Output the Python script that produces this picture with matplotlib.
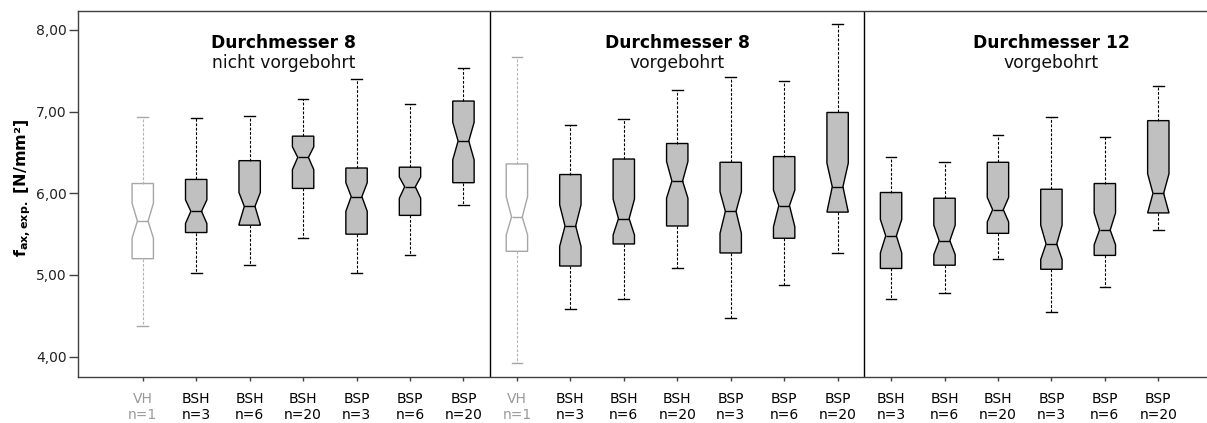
#!/usr/bin/env python3
import matplotlib
matplotlib.use('Agg')
import matplotlib.pyplot as plt
from matplotlib.ticker import FuncFormatter

# Prüfkörper-Gruppen je Position (3 Serien)
groups = ['VH', 'BSH', 'BSH', 'BSH', 'BSP', 'BSP', 'BSP',
          'VH', 'BSH', 'BSH', 'BSH', 'BSP', 'BSP', 'BSP',
          'BSH', 'BSH', 'BSH', 'BSP', 'BSP', 'BSP']
n_values = [1, 3, 6, 20, 3, 6, 20,
            1, 3, 6, 20, 3, 6, 20,
            3, 6, 20, 3, 6, 20]

# Boxplot-Kennwerte f_ax,exp. [N/mm²]
whis_hi = [6.93, 6.92, 6.95, 7.15, 7.40, 7.09, 7.53,
           7.67, 6.84, 6.91, 7.27, 7.43, 7.38, 8.07,
           6.45, 6.38, 6.71, 6.93, 6.69, 7.31]
q3 = [6.12, 6.17, 6.40, 6.70, 6.31, 6.32, 7.13,
      6.36, 6.23, 6.42, 6.61, 6.38, 6.45, 6.99,
      6.01, 5.94, 6.38, 6.05, 6.12, 6.89]
ci_hi = [5.88, 5.92, 6.01, 6.57, 6.13, 6.20, 6.87,
         5.96, 5.86, 5.93, 6.39, 6.02, 6.04, 6.37,
         5.68, 5.61, 5.95, 5.61, 5.76, 6.24]
median = [5.66, 5.78, 5.84, 6.44, 5.96, 6.08, 6.64,
          5.71, 5.60, 5.69, 6.15, 5.78, 5.85, 6.08,
          5.48, 5.42, 5.80, 5.38, 5.55, 6.00]
ci_lo = [5.45, 5.63, 5.62, 6.29, 5.78, 5.94, 6.41,
         5.49, 5.35, 5.49, 5.94, 5.51, 5.59, 5.77,
         5.27, 5.25, 5.65, 5.19, 5.37, 5.76]
q1 = [5.20, 5.52, 5.61, 6.06, 5.50, 5.73, 6.13,
      5.29, 5.11, 5.38, 5.60, 5.27, 5.45, 5.77,
      5.08, 5.12, 5.51, 5.07, 5.24, 5.76]
whis_lo = [4.38, 5.03, 5.12, 5.45, 5.02, 5.25, 5.86,
           3.92, 4.58, 4.71, 5.09, 4.47, 4.88, 5.27,
           4.70, 4.78, 5.20, 4.55, 4.85, 5.55]

panel_titles = ['Durchmesser 8', 'Durchmesser 8', 'Durchmesser 12']
panel_subtitles = ['nicht vorgebohrt', 'vorgebohrt', 'vorgebohrt']


def draw_boxplot():
    fig = plt.figure(figsize=(12.07, 4.23), dpi=100)
    ax = fig.add_axes([0.0649, 0.1095, 0.9351, 0.8652])

    positions = list(range(1, len(groups) + 1))
    stats = []
    for i in range(len(groups)):
        stats.append({'med': median[i], 'q1': q1[i], 'q3': q3[i],
                      'cilo': ci_lo[i], 'cihi': ci_hi[i],
                      'whislo': whis_lo[i], 'whishi': whis_hi[i],
                      'fliers': []})

    for pos, st, grp in zip(positions, stats, groups):
        # Referenz (VH) hell, Verstärkungen grau gefüllt
        if grp == 'VH':
            edge, fill, wcol = '#a6a6a6', 'white', '#b3b3b3'
        else:
            edge, fill, wcol = 'black', '#c0c0c0', 'black'
        ax.bxp([st], positions=[pos], widths=0.4, shownotches=True,
               patch_artist=True, showfliers=False,
               boxprops=dict(facecolor=fill, edgecolor=edge, linewidth=1.0),
               medianprops=dict(color=edge, linewidth=1.0),
               whiskerprops=dict(color=wcol, linewidth=0.8, linestyle=(0, (2.5, 1.5))),
               capprops=dict(color=edge, linewidth=1.0))

    ax.set_xlim(-0.205, 20.911)
    ax.set_ylim(3.755, 8.236)

    # Trennlinien zwischen den Serien
    for xs in (7.5, 14.5):
        ax.axvline(xs, color='black', linewidth=1.0)

    for xc, t, s in zip([3.64, 11.0, 18.0], panel_titles, panel_subtitles):
        ax.text(xc, 7.84, t, ha='center', va='center', fontsize=12.3,
                fontweight='bold', color='black')
        ax.text(xc, 7.595, s, ha='center', va='center', fontsize=12.3,
                color='#111111')

    ax.set_yticks([4, 5, 6, 7, 8])
    ax.yaxis.set_major_formatter(FuncFormatter(lambda v, p: f'{v:.2f}'.replace('.', ',')))
    ax.set_xticks(positions)
    ax.set_xticklabels([f'{g}\nn={n}' for g, n in zip(groups, n_values)],
                       fontsize=10, linespacing=1.15)
    for lbl, grp in zip(ax.get_xticklabels(), groups):
        lbl.set_color('#999999' if grp == 'VH' else 'black')

    ax.tick_params(axis='y', labelsize=10, length=6.5, width=1, color='#404040',
                   pad=2, labelcolor='#222222')
    ax.tick_params(axis='x', length=3, width=1, color='#404040', pad=8)

    for side in ('left', 'bottom', 'top'):
        ax.spines[side].set_color('#404040')
        ax.spines[side].set_linewidth(1.0)
    ax.spines['right'].set_visible(False)

    ax.set_ylabel(r'$\mathbf{f_{ax,exp.}}$ [N/mm²]', fontsize=11.5,
                  fontweight='bold', va='center')
    ax.yaxis.set_label_coords(-0.049, 0.517)

    plt.savefig('out.png', dpi=100)


if __name__ == '__main__':
    draw_boxplot()
